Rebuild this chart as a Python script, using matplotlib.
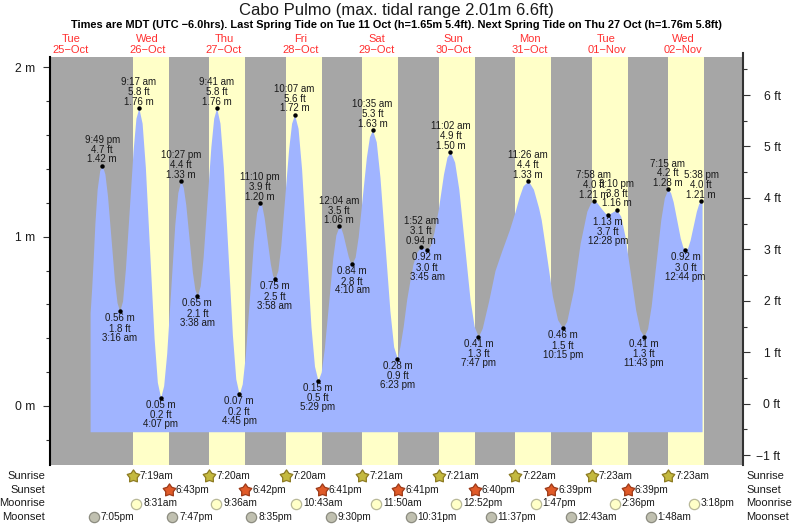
import matplotlib
matplotlib.use("Agg")
import matplotlib.pyplot as plt
from matplotlib.path import Path

plt.rcParams['font.family'] = ['Liberation Sans', 'DejaVu Sans']

# all times are hours since 00:00 on 25-Oct
day_names = ["Tue", "Wed", "Thu", "Fri", "Sat", "Sun", "Mon", "Tue", "Wed"]
day_dates = ["25\u2212Oct", "26\u2212Oct", "27\u2212Oct", "28\u2212Oct", "29\u2212Oct",
             "30\u2212Oct", "31\u2212Oct", "01\u2212Nov", "02\u2212Nov"]
day_noons = [12, 36, 60, 84, 108, 132, 156, 180, 204]

# labelled highs and lows
tide_hours = [21.82, 27.27, 33.28, 40.12, 46.45, 51.63, 57.68, 64.75, 71.17, 75.97,
              82.12, 89.48, 96.07, 100.17, 106.58, 114.38, 121.87, 123.75, 131.03, 139.78,
              155.43, 166.25, 175.97, 180.47, 183.17, 191.72, 199.25, 204.73, 209.63]
tide_m = [1.42, 0.56, 1.76, 0.05, 1.33, 0.65, 1.76, 0.07, 1.20, 0.75,
          1.72, 0.15, 1.06, 0.84, 1.63, 0.28, 0.94, 0.92, 1.50, 0.41,
          1.33, 0.46, 1.21, 1.13, 1.16, 0.41, 1.28, 0.92, 1.21]
tide_ft = ["4.7", "1.8", "5.8", "0.2", "4.4", "2.1", "5.8", "0.2", "3.9", "2.5",
           "5.6", "0.5", "3.5", "2.8", "5.3", "0.9", "3.1", "3.0", "4.9", "1.3",
           "4.4", "1.5", "4.0", "3.7", "3.8", "1.3", "4.2", "3.0", "4.0"]
tide_times = ["9:49 pm", "3:16 am", "9:17 am", "4:07 pm", "10:27 pm", "3:38 am", "9:41 am",
              "4:45 pm", "11:10 pm", "3:58 am", "10:07 am", "5:29 pm", "12:04 am", "4:10 am",
              "10:35 am", "6:23 pm", "1:52 am", "3:45 am", "11:02 am", "7:47 pm", "11:26 am",
              "10:15 pm", "7:58 am", "12:28 pm", "3:10 pm", "11:43 pm", "7:15 am", "12:44 pm",
              "5:38 pm"]

# tide curve
curve_hours = [18, 18.5, 19, 19.5, 20.2, 21, 21.82,
               22.64, 23.46, 24.55, 25.64, 26.45, 27.27,
               28.17, 29.07, 30.28, 31.48, 32.38, 33.28,
               34.31, 35.33, 36.70, 38.07, 39.09, 40.12,
               41.07, 42.02, 43.29, 44.55, 45.50, 46.45,
               47.23, 48.0, 49.04, 50.08, 50.85, 51.63,
               52.54, 53.45, 54.66, 55.87, 56.77, 57.68,
               58.74, 59.80, 61.22, 62.63, 63.69, 64.75,
               65.71, 66.68, 67.96, 69.24, 70.21, 71.17,
               71.89, 72.61, 73.57, 74.53, 75.25, 75.97,
               76.89, 77.82, 79.05, 80.28, 81.20, 82.12,
               83.22, 84.33, 85.80, 87.27, 88.38, 89.48,
               90.47, 91.46, 92.78, 94.09, 95.08, 96.07,
               96.69, 97.30, 98.12, 98.94, 99.56, 100.17,
               101.13, 102.09, 103.38, 104.66, 105.62, 106.58,
               107.75, 108.92, 110.48, 112.04, 113.21, 114.38,
               115.2, 116.2, 117.3, 118.3, 119.3, 120.5, 121.87,
               122.8, 123.75,
               124.8, 125.9, 127.2, 128.85, 129.94, 131.03,
               132.34, 133.65, 135.41, 137.16, 138.47, 139.78,
               141, 143, 145, 147, 149.5, 151.3, 152.5, 153.8, 155.43,
               157.05, 158.68, 159.5, 160.84, 162, 163.0, 164.63, 166.25,
               167.5, 169.6, 171.7, 173.8, 175, 175.97,
               177, 178.2, 179.5, 180.47,
               181.8, 183.17,
               184.45, 185.74, 187.45, 189.15, 190.44, 191.72,
               192.85, 193.98, 195.49, 197.0, 198.12, 199.25,
               200.07, 200.89, 201.99, 203.09, 203.91, 204.73,
               205.47, 206.2, 207.18, 208.16, 208.9, 209.63, 209.95]
curve_m = [0.55, 0.70, 0.88, 1.08, 1.28, 1.39, 1.42,
           1.37, 1.24, 0.99, 0.74, 0.61, 0.56,
           0.62, 0.81, 1.16, 1.51, 1.70, 1.76,
           1.67, 1.41, 0.905, 0.40, 0.14, 0.05,
           0.12, 0.31, 0.69, 1.07, 1.26, 1.33,
           1.29, 1.19, 0.99, 0.79, 0.69, 0.65,
           0.71, 0.88, 1.205, 1.53, 1.70, 1.76,
           1.67, 1.41, 0.915, 0.42, 0.16, 0.07,
           0.13, 0.30, 0.635, 0.97, 1.14, 1.20,
           1.18, 1.11, 0.975, 0.84, 0.77, 0.75,
           0.80, 0.95, 1.235, 1.52, 1.67, 1.72,
           1.64, 1.40, 0.935, 0.47, 0.235, 0.15,
           0.20, 0.34, 0.605, 0.87, 1.01, 1.06,
           1.05, 1.015, 0.95, 0.885, 0.85, 0.84,
           0.88, 1.00, 1.235, 1.47, 1.59, 1.63,
           1.56, 1.35, 0.955, 0.56, 0.35, 0.28,
           0.354, 0.47, 0.63, 0.74, 0.84, 0.91, 0.94,
           0.93, 0.92,
           0.95, 1.03, 1.16, 1.37, 1.47, 1.50,
           1.44, 1.28, 0.955, 0.63, 0.47, 0.41,
           0.46, 0.62, 0.80, 0.91, 1.04, 1.148, 1.23, 1.30, 1.33,
           1.28, 1.17, 1.10, 0.93, 0.78, 0.65, 0.51, 0.46,
           0.50, 0.685, 0.96, 1.15, 1.20, 1.21,
           1.20, 1.17, 1.14, 1.13,
           1.145, 1.16,
           1.12, 1.005, 0.785, 0.565, 0.45, 0.41,
           0.457, 0.59, 0.845, 1.10, 1.23, 1.28,
           1.26, 1.206, 1.10, 0.994, 0.94, 0.92,
           0.936, 0.98, 1.065, 1.15, 1.195, 1.21, 1.21]

sunrise_hours = [31.32, 55.33, 79.33, 103.35, 127.35, 151.37, 175.38, 199.38]
sunrise_text = ["7:19am", "7:20am", "7:20am", "7:21am", "7:21am", "7:22am", "7:23am", "7:23am"]
sunset_hours = [42.72, 66.70, 90.68, 114.68, 138.67, 162.65, 186.65, 210.63]
sunset_text = ["6:43pm", "6:42pm", "6:41pm", "6:41pm", "6:40pm", "6:39pm", "6:39pm"]
moonrise_hours = [32.52, 57.60, 82.72, 107.83, 132.87, 157.78, 182.60, 207.30]
moonrise_text = ["8:31am", "9:36am", "10:43am", "11:50am", "12:52pm", "1:47pm", "2:36pm", "3:18pm"]
moonset_hours = [19.08, 43.78, 68.58, 93.50, 118.52, 143.62, 168.72, 193.80]
moonset_text = ["7:05pm", "7:47pm", "8:35pm", "9:30pm", "10:31pm", "11:37pm", "12:43am", "1:48am"]

GRAY = "#a6a6a6"
YELLOW = "#ffffc8"
BLUE = "#a0b4ff"
RED = "#ff3030"
TXT = "#1a1a1a"

W, H = 793, 525
LEFT, RIGHT, TOP, BOTTOM = 49.5, 743, 57, 465

fig = plt.figure(figsize=(W / 100, H / 100), dpi=100)
ax = fig.add_axes([LEFT / W, (H - BOTTOM) / H, (RIGHT - LEFT) / W, (BOTTOM - TOP) / H])
ax.set_xlim(5.26, 222.79)
ax.set_ylim(-0.3485, 2.061)
ax.set_facecolor(GRAY)

# daylight bands and the tide
for a, b in zip(sunrise_hours, sunset_hours):
    ax.axvspan(a, b, color=YELLOW, lw=0, zorder=1)
ax.fill_between(curve_hours, -0.152, curve_m, color=BLUE, lw=0, zorder=2)
ax.plot(tide_hours, tide_m, "o", color="black", ms=3.2, mew=0, zorder=3)

# labels above highs, below lows
for i in range(len(tide_hours)):
    rows = [f"{tide_m[i]:.2f} m", tide_ft[i] + " ft", tide_times[i]]
    if i % 2 == 0:
        offs = [4.5, 11.5, 18.5]
    else:
        offs = [-5.2, -12.8, -19.2]
    for txt, off in zip(rows, offs):
        ax.annotate(txt, (tide_hours[i], tide_m[i]), xytext=(0, off), textcoords="offset points",
                    ha="center", va="center", fontsize=7, color=TXT, zorder=4)

# metres on the left
ax.set_yticks([0, 1, 2])
ax.set_yticklabels(["0 m", "1 m", "2 m"], fontsize=8.7, color=TXT)
ax.set_yticks([-0.2, 0.2, 0.4, 0.6, 0.8, 1.2, 1.4, 1.6, 1.8], minor=True)
ax.tick_params(axis="y", which="major", length=5, width=0.8, pad=5.5, color="#333333")
ax.tick_params(axis="y", which="minor", length=2.8, width=0.8, color="#333333")
ax.set_xticks([])
for s in ["top", "bottom", "right"]:
    ax.spines[s].set_visible(False)
ax.spines["left"].set_linewidth(1.5)

# feet on the right
ax2 = ax.twinx()
ax2.set_ylim(-1.191, 6.739)
ft_major = [-1, 0, 1, 2, 3, 4, 5, 6]
ax2.set_yticks(ft_major)
ax2.set_yticklabels(["\u22121 ft", "0 ft", "1 ft", "2 ft", "3 ft", "4 ft", "5 ft", "6 ft"],
                    fontsize=8.7, color=TXT, ha="right")
ax2.set_yticks([-0.5, 0.5, 1.5, 2.5, 3.5, 4.5, 5.5, 6.5], minor=True)
ax2.tick_params(axis="y", which="major", length=5, width=0.8, pad=22, color="#333333")
ax2.tick_params(axis="y", which="minor", length=2.8, width=0.8, color="#333333")
for s in ["top", "bottom", "left"]:
    ax2.spines[s].set_visible(False)
ax2.spines["right"].set_linewidth(1.5)
ax2.spines["right"].set_color("#333333")
ax2.spines["right"].set_bounds(-1.191, 6.81)

# helper for text outside the axes: x in hours, y in picture pixels
xt = ax.get_xaxis_transform()
def ypx(p):
    return (BOTTOM - p) / (BOTTOM - TOP)

for n, d, h in zip(day_names, day_dates, day_noons):
    ax.text(h, ypx(38.5), n, transform=xt, ha="center", va="center", fontsize=8, color=RED, clip_on=False)
    ax.text(h, ypx(50), d, transform=xt, ha="center", va="center", fontsize=8, color=RED, clip_on=False)

fig.text(396 / W, 1 - 10 / H, "Cabo Pulmo (max. tidal range 2.01m 6.6ft)", ha="center", va="center",
         fontsize=12, color=TXT)
fig.text(396 / W, 1 - 25 / H,
         "Times are MDT (UTC \u22126.0hrs). Last Spring Tide on Tue 11 Oct (h=1.65m 5.4ft). "
         "Next Spring Tide on Thu 27 Oct (h=1.76m 5.8ft)",
         ha="center", va="center", fontsize=7.95, fontweight="bold", color="black")

# sun and moon rows
fat_star = Path.unit_regular_star(5, innerCircle=0.6)
rows = [("Sunrise", 476, sunrise_hours, sunrise_text, fat_star, "#c4b93f", "#8c7a22", 9.5),
        ("Sunset", 490, sunset_hours, sunset_text, fat_star, "#e05a28", "#9c3a18", 9.5),
        ("Moonrise", 503.5, moonrise_hours, moonrise_text, "o", YELLOW, "#b8b898", 7.4),
        ("Moonset", 517, moonset_hours, moonset_text, "o", "#c0c0b0", "#8c8c80", 7.4)]
for name, py, hrs, labels, mk, fc, ec, ms in rows:
    fig.text(45 / W, 1 - py / H, name, ha="right", va="center", fontsize=8, color=TXT)
    fig.text(746.5 / W, 1 - py / H, name, ha="left", va="center", fontsize=8, color=TXT)
    # last sunset has no label in the picture
    ax.plot(hrs[:len(labels)], [ypx(py)] * len(labels), linestyle="none", marker=mk, ms=ms, mfc=fc, mec=ec,
            mew=0.9, transform=xt, clip_on=False, zorder=5)
    for h, s in zip(hrs, labels):
        ax.annotate(s, (h, ypx(py)), xycoords=xt, xytext=(5, 0), textcoords="offset points",
                    ha="left", va="center", fontsize=7.3, color=TXT, annotation_clip=False)

fig.savefig("out.png", dpi=100)
